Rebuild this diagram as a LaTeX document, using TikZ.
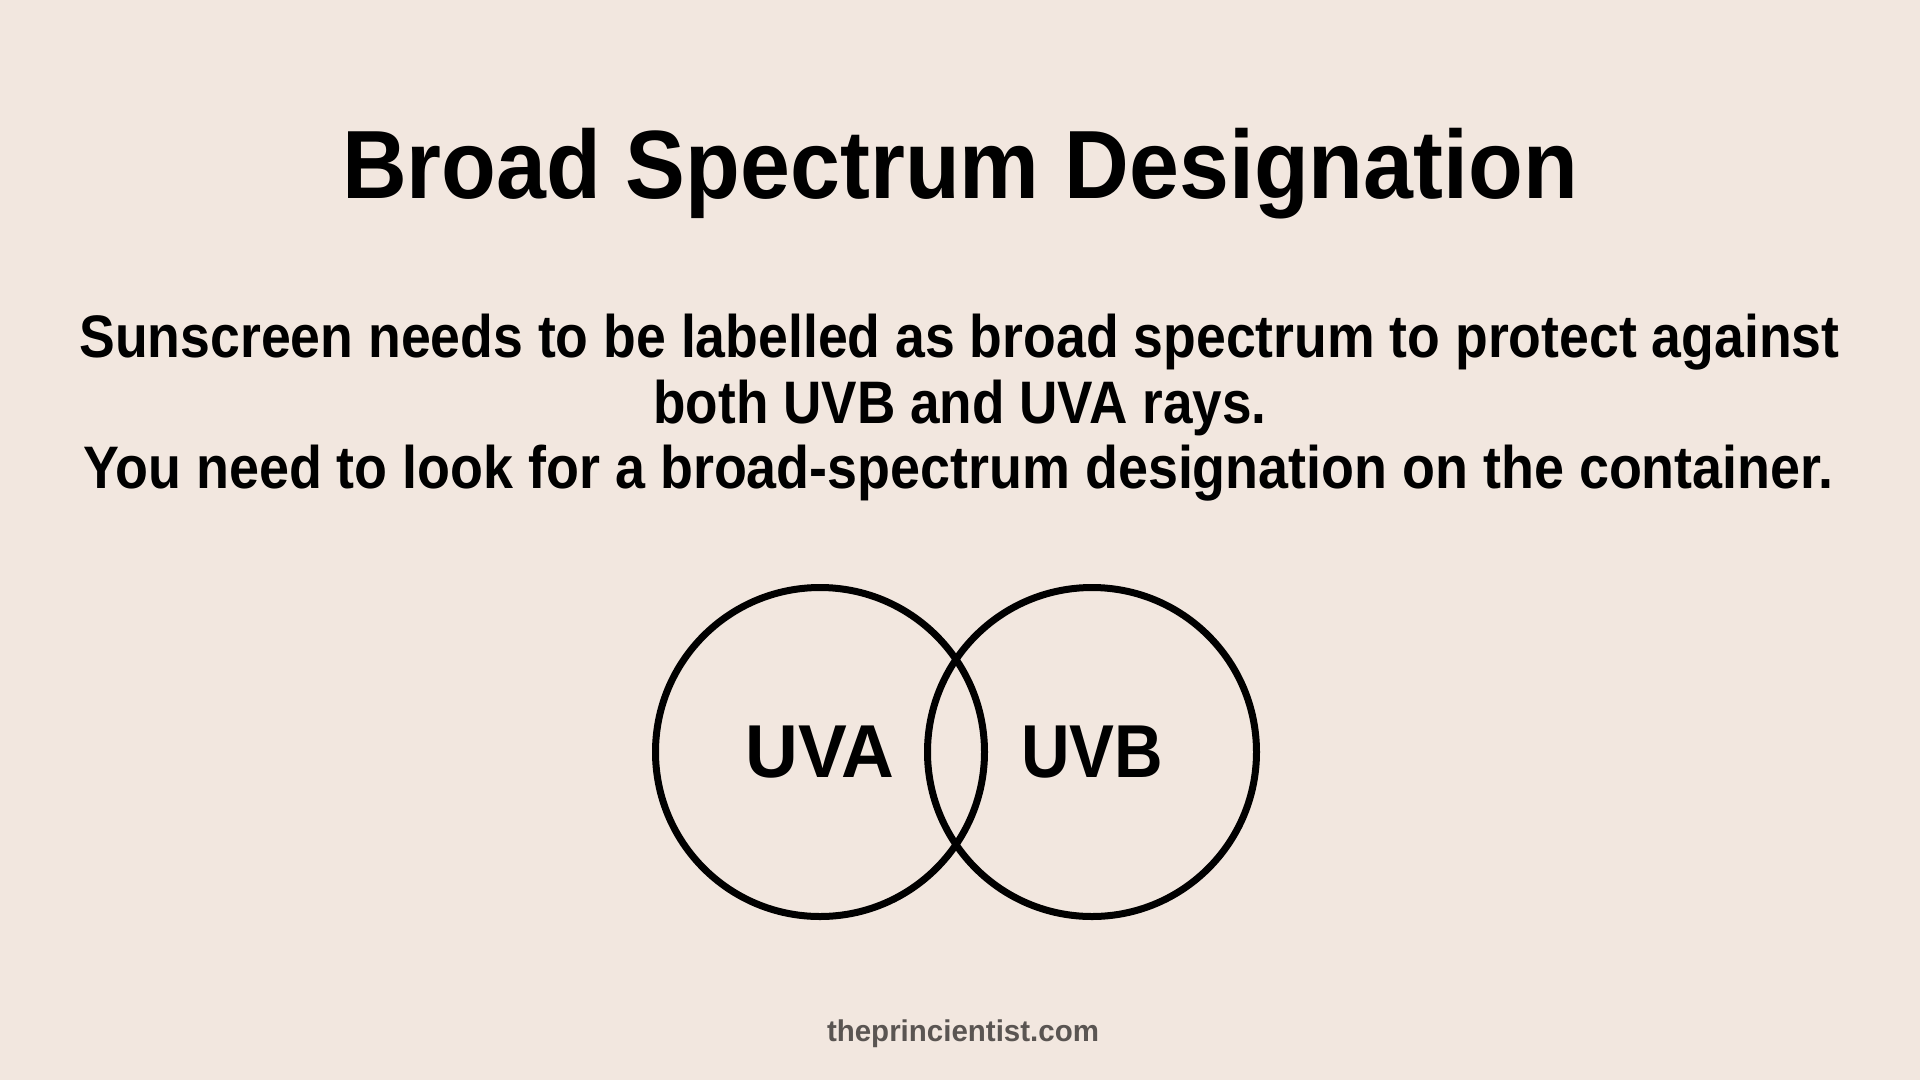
\documentclass[tikz,border=0pt]{standalone}
\usepackage{fontspec}
\setmainfont{Liberation Sans}
\usepackage{graphicx}
\definecolor{bgcol}{HTML}{F2E7DF}
\definecolor{footcol}{HTML}{5A5552}
\newlength\fitlen
\newcommand\fitto[2]{\settowidth\fitlen{#2}\pgfmathsetmacro\fitr{#1/\fitlen}\scalebox{\fitr}[1]{#2}}
\tikzset{
  txt/.style={inner sep=0pt, anchor=base, text=black},
  titlefont/.style={font=\fontsize{97}{97}\selectfont\bfseries},
  bodyfont/.style={font=\fontsize{60}{60}\selectfont\bfseries},
  footfont/.style={font=\fontsize{30}{30}\selectfont\bfseries, text=footcol},
  venn/.style={circle, draw=black, line width=7pt, minimum size=329pt, inner sep=0pt,
    font=\fontsize{75}{75}\selectfont\bfseries}
}
\begin{document}
\begin{tikzpicture}[x=1pt,y=-1pt]
\fill[bgcol] (0,0) rectangle (1920,1080);
\useasboundingbox (0,0) rectangle (1920,1080);
\node[txt, titlefont] (title) at (960,198) {\fitto{1236}{Broad Spectrum Designation}};
\node[txt, bodyfont] (l1) at (959.5,357) {\fitto{1760}{Sunscreen needs to be labelled as broad spectrum to protect against}};
\node[txt, bodyfont] (l2) at (960,423) {\fitto{613}{both UVB and UVA rays.}};
\node[txt, bodyfont] (l3) at (958.5,488) {\fitto{1750}{You need to look for a broad-spectrum designation on the container.}};
\node[venn] (uva) at (820,752) {\fitto{149}{UVA}};
\node[venn] (uvb) at (1092,752) {\fitto{142}{UVB}};
\node[txt, footfont] (foot) at (963,1041) {\fitto{272}{theprincientist.com}};
\end{tikzpicture}
\end{document}
